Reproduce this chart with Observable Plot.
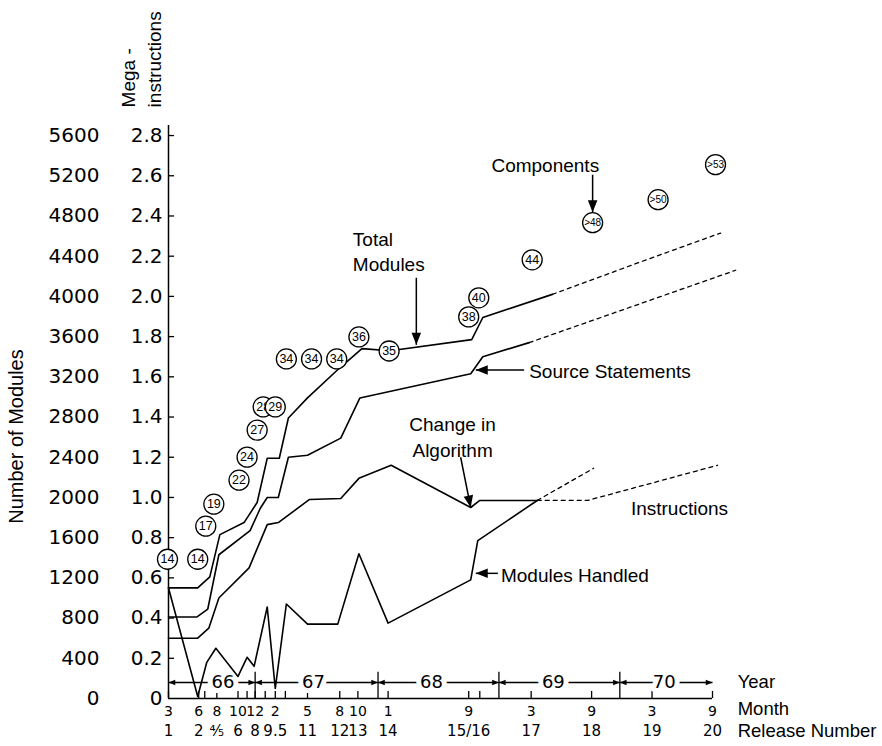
<!DOCTYPE html>
<html><head><meta charset="utf-8">
<script src="https://cdn.jsdelivr.net/npm/d3@7"></script>
<script src="https://cdn.jsdelivr.net/npm/@observablehq/plot@0.6"></script>
<style>body{margin:0;background:#fff}</style>
</head><body><div id="chart"></div>
<script>
// ---- x axis: months since March 1966, placed as on the original time axis ----
const releaseX = [0, 3, 4.8, 6.9, 8.6, 10.6, 13.8, 17, 18.8, 21.8, 29.8, 36, 42, 48, 54];
const monthLabels = ["3","6","8","10","12","2","5","8","10","1","9","3","9","3","9"];
const releaseLabels = ["1","2","⁴⁄₅","6","8","9.5","11","12","13","14","15/16","17","18","19","20"];
const minorTickX = [3.6, 7.8, 9.6, 11.6, 30.9];
const yearBoundaryX = [8.6, 20.8, 32.8, 44.8];
const yearLabels = ["66","67","68","69","70"];
const yearLabelX = [5.4, 14.4, 26.1, 38.2, 49.2];
const yearStartX = [0, 8.6, 20.8, 32.8, 44.8];
const yearEndX = [8.6, 20.8, 32.8, 44.8, 54];
const rowLabels = ["Year", "Month", "Release Number"];

// ---- y axis ticks (number of modules; megainstructions = modules / 2000) ----
const yTicks = [0,400,800,1200,1600,2000,2400,2800,3200,3600,4000,4400,4800,5200,5600];

// ---- series ----
const totalX = [0, 2.9, 4.1, 5.1, 7.5, 8.8, 9.8, 11.0, 11.9, 13.8, 16.9, 19.2, 22.0, 30.1, 31.2, 38.1];
const totalV = [1100,1100,1210,1630,1750,1950,2390,2390,2790,2990,3280,3480,3460,3570,3790,4020];
const totalProjX = [38.1, 46.5, 54.8];
const totalProjV = [4020, 4330, 4630];

const sourceX = [0, 2.8, 3.9, 5.0, 8.1, 9.1, 9.8, 10.9, 11.9, 13.8, 17.1, 19.0, 30.0, 31.2, 35.8];
const sourceV = [810, 810, 890, 1430, 1670, 1890, 2000, 2000, 2400, 2420, 2590, 2990, 3230, 3400, 3540];
const sourceProjX = [35.8, 56.3];
const sourceProjV = [3540, 4260];

// instructions in mega-instructions
const instrX = [0, 2.9, 4.0, 5.0, 8.0, 9.8, 10.9, 14.0, 17.1, 18.9, 22.1, 30.0, 30.9, 36.6];
const instrM = [0.30, 0.30, 0.35, 0.50, 0.65, 0.865, 0.875, 0.99, 0.995, 1.095, 1.16, 0.95, 0.985, 0.985];
const instrProjAX = [36.6, 42.2];
const instrProjAM = [0.985, 1.145];
const instrProjBX = [36.6, 41.6, 54.5];
const instrProjBM = [0.985, 0.985, 1.16];

const handledX = [0, 2.9, 3.8, 4.7, 6.9, 7.8, 8.5, 9.8, 10.6, 11.7, 13.8, 16.8, 18.9, 21.8, 30.0, 30.7, 36.6];
const handledV = [1100, 20, 360, 500, 220, 410, 320, 910, 100, 940, 740, 740, 1440, 750, 1180, 1570, 1970];

// components (circled counts)
const compX = [-0.1, 2.9, 3.7, 4.5, 7.0, 7.8, 8.8, 9.4, 10.6, 11.7, 14.2, 16.7, 18.9, 21.9, 29.8, 30.8, 36.1, 42.1, 48.6, 54.3];
const compV = [1385, 1385, 1714, 1933, 2172, 2401, 2670, 2900, 2900, 3378, 3378, 3378, 3597, 3457, 3796, 3986, 4364, 4733, 4962, 5311];
const compLabels = ["14","14","17","19","22","24","27","28","29","34","34","34","36","35","38","40","44",">48",">50",">53"];

// annotations
const notes = [
  {x: 37.4, y: 5322, text: "Components", anchor: "middle"},
  {x: 18.3, y: 4457, text: "Total\nModules", anchor: "start"},
  {x: 35.8, y: 3267, text: "Source Statements", anchor: "start"},
  {x: 28.2, y: 2611, text: "Change in\nAlgorithm", anchor: "middle"},
  {x: 45.9, y: 1910, text: "Instructions", anchor: "start"},
  {x: 33.0, y: 1245, text: "Modules Handled", anchor: "start"}
];
const arrows = [
  {x1: 42.1, y1: 5210, x2: 42.1, y2: 4836},
  {x1: 24.6, y1: 4185, x2: 24.6, y2: 3518},
  {x1: 35.3, y1: 3267, x2: 30.5, y2: 3267},
  {x1: 29.0, y1: 2400, x2: 30.0, y2: 1900},
  {x1: 32.7, y1: 1245, x2: 30.5, y2: 1245}
];

const pts = (xs, ys, k = 1) => xs.map((x, i) => ({x, y: ys[i] * k}));
const MI = 2000; // modules per mega-instruction on the chart

const arrowHead = {
  draw(context, size) {
    const r = Math.sqrt(size / Math.PI);
    const L = 2.4 * r, w = 0.95 * r;
    context.moveTo(0, 0);
    context.lineTo(-w, L);
    context.lineTo(w, L);
    context.closePath();
  }
};

const TXT = "Liberation Sans, Arial, sans-serif";
const NUM = "DejaVu Sans, sans-serif";

const xScaleTmp = d3.scaleLinear().domain([0, 54]).range([168, 712]);
const yScaleTmp = d3.scaleLinear().domain([0, 5700]).range([698, 125]);
const angle = (a) => {
  const dx = xScaleTmp(a.x2) - xScaleTmp(a.x1), dy = yScaleTmp(a.y2) - yScaleTmp(a.y1);
  return Math.atan2(dx, -dy) * 180 / Math.PI;
};

const tickRows = releaseX.map((x, i) => ({x, month: monthLabels[i], rel: releaseLabels[i]}));
const years = yearLabels.map((t, i) => ({t, x: yearLabelX[i], x0: yearStartX[i], x1: yearEndX[i]}));
const YR = 159; // year row level
const comps = compX.map((x, i) => ({x, y: compV[i], label: compLabels[i]}));

const lineStyle = {x: "x", y: "y", stroke: "black", strokeWidth: 1.6};
const dashStyle = {x: "x", y: "y", stroke: "black", strokeWidth: 1.3, strokeDasharray: "4,4"};
const rowText = {x: 56.5, text: d => d, textAnchor: "start", fontSize: 18.5, fontFamily: TXT};

const chart = Plot.plot({
  width: 882, height: 746,
  marginLeft: 168, marginRight: 170, marginTop: 125, marginBottom: 48,
  x: {domain: [0, 54], axis: null},
  y: {domain: [0, 5700]},
  style: {background: "white", color: "black", fontFamily: NUM},
  marks: [
    // y axis
    Plot.ruleX([0], {y1: 0, y2: 5700, strokeWidth: 1.5}),
    Plot.ruleY(yTicks.slice(1), {x1: 0, x2: 0.6, strokeWidth: 1.3}),
    Plot.axisY(yTicks, {tickSize: 0, tickPadding: 6, label: null, fontSize: 20, fontFamily: NUM,
      tickFormat: d => d === 0 ? "0" : (d / MI).toFixed(1)}),
    Plot.axisY(yTicks, {tickSize: 0, tickPadding: 69, label: null, fontSize: 20, fontFamily: NUM,
      tickFormat: d => String(d)}),
    Plot.text(["Number of Modules"], {x: -15.1, y: 2606, text: d => d, rotate: -90, fontSize: 20, fontFamily: TXT}),
    Plot.text(["Mega -"], {x: -3.97, y: 5880, text: d => d, rotate: -90, textAnchor: "start", fontSize: 19, fontFamily: TXT}),
    Plot.text(["instructions"], {x: -1.39, y: 5880, text: d => d, rotate: -90, textAnchor: "start", fontSize: 19, fontFamily: TXT}),

    // x axis
    Plot.ruleY([0], {x1: 0, x2: 54, strokeWidth: 1.5}),
    Plot.ruleX(releaseX.concat(minorTickX), {y1: 0, y2: 70, strokeWidth: 1.3}),
    Plot.ruleX(yearBoundaryX, {y1: 0, y2: 262, strokeWidth: 1.3}),
    Plot.text(tickRows, {x: "x", y: 0, text: "month", dy: 13, fontSize: 14, fontFamily: NUM}),
    Plot.text(tickRows, {x: "x", y: 0, text: "rel", dy: 33, fontSize: 15, fontFamily: NUM}),
    Plot.link(years, {x1: "x0", x2: "x1", y1: YR, y2: YR, strokeWidth: 1.3}),
    Plot.dot(years, {x: "x0", y: YR, symbol: arrowHead, r: 2.8, rotate: -90, fill: "black", stroke: null}),
    Plot.dot(years, {x: "x1", y: YR, symbol: arrowHead, r: 2.8, rotate: 90, fill: "black", stroke: null}),
    Plot.text(years, {x: "x", y: YR, text: "t", fontSize: 18, fontFamily: NUM, stroke: "white", strokeWidth: 10, fill: "black"}),
    Plot.text([rowLabels[0]], {...rowText, y: YR}),
    Plot.text([rowLabels[1]], {...rowText, y: 0, dy: 11}),
    Plot.text([rowLabels[2]], {...rowText, y: 0, dy: 33}),

    // series
    Plot.line(pts(handledX, handledV), lineStyle),
    Plot.line(pts(instrX, instrM, MI), lineStyle),
    Plot.line(pts(instrProjAX, instrProjAM, MI), dashStyle),
    Plot.line(pts(instrProjBX, instrProjBM, MI), dashStyle),
    Plot.line(pts(sourceX, sourceV), lineStyle),
    Plot.line(pts(sourceProjX, sourceProjV), dashStyle),
    Plot.line(pts(totalX, totalV), lineStyle),
    Plot.line(pts(totalProjX, totalProjV), dashStyle),

    // components circles
    ...comps.flatMap(c => [
      Plot.dot([c], {x: "x", y: "y", r: 10, fill: "white", stroke: "black", strokeWidth: 1.3}),
      Plot.text([c], {x: "x", y: "y", text: "label", fontFamily: TXT, fontSize: c.label.startsWith(">") ? 10 : 12.5})
    ]),

    // annotations
    Plot.link(arrows, {x1: "x1", y1: "y1", x2: "x2", y2: "y2", strokeWidth: 1.5}),
    Plot.dot(arrows, {x: "x2", y: "y2", symbol: arrowHead, r: 5, rotate: angle, fill: "black", stroke: null}),
    Plot.text(notes, {x: "x", y: "y", text: "text", textAnchor: "start", fontSize: 19, fontFamily: TXT, lineHeight: 1.35,
      filter: d => d.anchor === "start"}),
    Plot.text(notes, {x: "x", y: "y", text: "text", textAnchor: "middle", fontSize: 19, fontFamily: TXT, lineHeight: 1.35,
      filter: d => d.anchor === "middle"})
  ]
});
document.getElementById("chart").append(chart);
</script>
</body></html>
